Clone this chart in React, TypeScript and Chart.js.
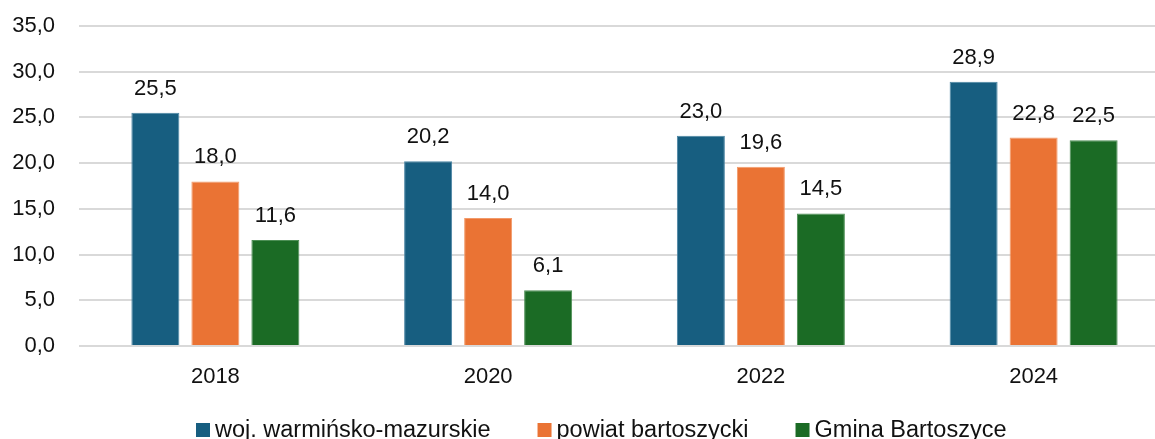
import React, { useEffect, useRef } from "react";
import { Chart, registerables } from "chart.js";

Chart.register(...registerables);

const categories = ["2018", "2020", "2022", "2024"];
const seriesNames = ["woj. warmińsko-mazurskie", "powiat bartoszycki", "Gmina Bartoszyce"];
const wojValues = [25.5, 20.2, 23.0, 28.9];
const powiatValues = [18.0, 14.0, 19.6, 22.8];
const gminaValues = [11.6, 6.1, 14.5, 22.5];
const seriesColors = ["#175E80", "#EA7334", "#1B6B25"];
const seriesBorders = ["#4a85a3", "#f29a6a", "#4d8f55"];
const yMin = 0;
const yMax = 35;
const yStep = 5;

const FONT = "'Liberation Sans', Arial, sans-serif";
const fmt = (v: number) => v.toFixed(1).replace(".", ",");

const dataLabelPlugin = {
  id: "dataLabels",
  afterDatasetsDraw(chart: any) {
    const ctx = chart.ctx;
    ctx.save();
    ctx.font = `22px ${FONT}`;
    ctx.fillStyle = "#111111";
    ctx.textAlign = "center";
    ctx.textBaseline = "alphabetic";
    chart.data.datasets.forEach((ds: any, i: number) => {
      const meta = chart.getDatasetMeta(i);
      meta.data.forEach((el: any, j: number) => {
        ctx.fillText(fmt(ds.data[j]), el.x, el.y - 18);
      });
    });
    ctx.restore();
  },
};

const legendPlugin = {
  id: "customLegend",
  afterDraw(chart: any) {
    const ctx = chart.ctx;
    ctx.save();
    ctx.font = `23.5px ${FONT}`;
    ctx.textBaseline = "alphabetic";
    ctx.textAlign = "left";
    const box = 14;
    const gapText = 5;
    const gapItem = 47;
    let x = 196;
    const baseline = 437;
    chart.data.datasets.forEach((ds: any) => {
      const w = ctx.measureText(ds.label).width;
      ctx.fillStyle = ds.backgroundColor;
      ctx.fillRect(x, baseline - box, box, box);
      ctx.fillStyle = "#111111";
      ctx.fillText(ds.label, x + box + gapText, baseline);
      x += box + gapText + w + gapItem;
    });
    ctx.restore();
  },
};

export default function App() {
  const canvasRef = useRef<HTMLCanvasElement | null>(null);

  useEffect(() => {
    document.body.style.margin = "0";
    const canvas = canvasRef.current;
    if (!canvas) return;
    const values = [wojValues, powiatValues, gminaValues];
    const chart = new Chart(canvas, {
      type: "bar",
      data: {
        labels: categories,
        datasets: seriesNames.map((name, i) => ({
          label: name,
          data: values[i],
          backgroundColor: seriesColors[i],
          borderColor: seriesBorders[i],
          borderWidth: 1,
          categoryPercentage: 0.66,
          barPercentage: 0.8,
        })),
      },
      options: {
        responsive: false,
        animation: false,
        devicePixelRatio: 1,
        layout: { padding: { top: 26, left: 0, right: 0, bottom: 0 } },
        plugins: {
          legend: { display: false },
          tooltip: { enabled: false },
          title: { display: false },
        },
        scales: {
          x: {
            grid: { display: false, drawTicks: false },
            border: { display: false },
            ticks: {
              color: "#111111",
              font: { family: FONT, size: 22 },
              padding: 18,
              maxRotation: 0,
            },
            afterFit: (scale: any) => {
              scale.height = 93;
            },
          },
          y: {
            min: yMin,
            max: yMax,
            grid: { color: "#d9d9d9", lineWidth: 2, drawTicks: false },
            border: { display: false },
            ticks: {
              stepSize: yStep,
              color: "#111111",
              font: { family: FONT, size: 22 },
              padding: 24,
              callback: (v: any) => fmt(Number(v)),
            },
            afterFit: (scale: any) => {
              scale.width = 79;
              scale.paddingTop = 0;
              scale.paddingBottom = 0;
            },
          },
        },
      },
      plugins: [dataLabelPlugin, legendPlugin],
    });
    return () => chart.destroy();
  }, []);

  return (
    <div style={{ width: 1155, height: 439, overflow: "hidden" }}>
      <canvas ref={canvasRef} width={1170} height={439} style={{ display: "block" }} />
    </div>
  );
}
